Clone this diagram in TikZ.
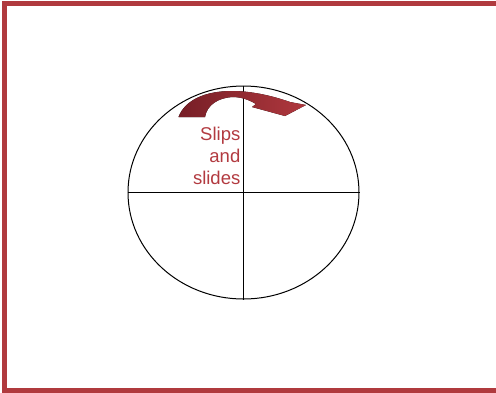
\documentclass[tikz,border=0pt]{standalone}
\usepackage{fontspec}
\setmainfont{Liberation Sans}
\usetikzlibrary{shapes.geometric}
\definecolor{framered}{RGB}{176,58,62}
\definecolor{textred}{RGB}{178,58,64}
\definecolor{arrowdark}{RGB}{118,30,38}
\definecolor{arrowlight}{RGB}{176,56,62}
\tikzset{
  frameline/.style={draw=framered, line width=5pt},
  circ/.style={ellipse, draw=black, line width=1pt, minimum width=231pt, minimum height=213pt, inner sep=0pt},
  axis/.style={draw=black, line width=1pt},
  label/.style={text=textred, align=right, inner sep=0pt, font=\fontsize{18.5}{22}\selectfont},
  curvearrow/.style={left color=arrowdark, right color=arrowlight, draw=none}
}
\begin{document}
\begin{tikzpicture}[x=1pt, y=-1pt]
\useasboundingbox (0,0) rectangle (496,392);
\begin{scope}
\clip (0,0) rectangle (496,392);
\draw[frameline] (4.5,3.5) rectangle (502,390.5);
\end{scope}
\node[circ] (el) at (243.5,192.5) {};
\draw[axis] (el.west) -- (el.east);
\draw[axis] (el.north) -- (el.south);
\fill[curvearrow] (178.5,117) .. controls (185,100) and (205,91) .. (232,91)
  .. controls (250,91) and (270,95) .. (290,102)
  -- (306,105) -- (285,116) -- (252,107) -- (256,104)
  .. controls (249,100) and (242,97) .. (232,97)
  .. controls (218,98) and (207,105) .. (205,117) -- cycle;
\node[label, anchor=base east] (txt) at (240.5,184) {Slips\\and\\slides};
\end{tikzpicture}
\end{document}
